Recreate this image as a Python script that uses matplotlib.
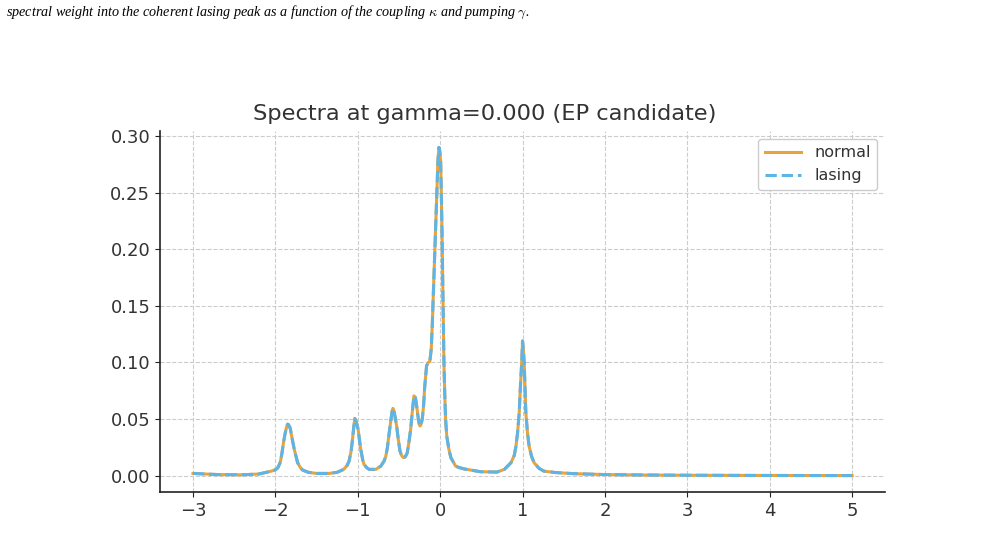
import numpy as np
import matplotlib.pyplot as plt

# spectrum (omega, weight)
omega = [-3.0, -2.7, -2.4, -2.2, -2.05, -2.0, -1.97, -1.94, -1.92, -1.90,
         -1.88, -1.86, -1.85, -1.84, -1.82, -1.80, -1.77, -1.73, -1.70, -1.67,
         -1.60, -1.50, -1.35, -1.25, -1.17, -1.13, -1.105, -1.08, -1.064, -1.05,
         -1.036, -1.02, -1.01, -0.996, -0.98, -0.963, -0.94, -0.924, -0.89, -0.863,
         -0.78, -0.72, -0.68, -0.66, -0.64, -0.62, -0.60, -0.585, -0.573, -0.56,
         -0.545, -0.528, -0.51, -0.488, -0.47, -0.447, -0.425, -0.40, -0.38, -0.358,
         -0.34, -0.33, -0.318, -0.30, -0.286, -0.27, -0.255, -0.246, -0.235, -0.217,
         -0.20, -0.189, -0.165, -0.145, -0.125, -0.108, -0.095, -0.083, -0.07, -0.055,
         -0.04, -0.027, -0.015, -0.005, 0.006, 0.014, 0.022, 0.028, 0.034, 0.040,
         0.046, 0.056, 0.066, 0.08, 0.106, 0.13, 0.187, 0.23, 0.29, 0.49,
         0.69, 0.78, 0.86, 0.90, 0.92, 0.94, 0.96, 0.975, 0.99, 1.0,
         1.01, 1.02, 1.03, 1.04, 1.06, 1.08, 1.11, 1.14, 1.20, 1.26,
         1.40, 1.62, 2.0, 2.5, 3.0, 4.0, 5.0]
spec_normal = [0.0020, 0.0010, 0.0008, 0.0015, 0.0040, 0.0052, 0.0070, 0.012, 0.020, 0.030,
               0.038, 0.044, 0.0455, 0.0450, 0.042, 0.034, 0.023, 0.0115, 0.0075, 0.005,
               0.003, 0.002, 0.002, 0.003, 0.0056, 0.009, 0.013, 0.022, 0.032, 0.042,
               0.0505, 0.048, 0.045, 0.041, 0.032, 0.023, 0.014, 0.010, 0.007, 0.0056,
               0.0056, 0.0085, 0.013, 0.017, 0.025, 0.037, 0.048, 0.056, 0.0595, 0.057,
               0.051, 0.044, 0.033, 0.022, 0.018, 0.016, 0.0165, 0.020, 0.029, 0.041,
               0.055, 0.062, 0.0705, 0.069, 0.062, 0.053, 0.046, 0.044, 0.0445, 0.050,
               0.063, 0.077, 0.097, 0.100, 0.101, 0.112, 0.134, 0.160, 0.187, 0.219,
               0.250, 0.278, 0.290, 0.287, 0.278, 0.250, 0.219, 0.190, 0.159, 0.130,
               0.100, 0.072, 0.050, 0.035, 0.0234, 0.016, 0.0085, 0.0072, 0.006, 0.0035,
               0.0032, 0.0056, 0.0115, 0.018, 0.026, 0.038, 0.056, 0.080, 0.100, 0.119,
               0.112, 0.100, 0.078, 0.056, 0.038, 0.026, 0.017, 0.0115, 0.0065, 0.004,
               0.0028, 0.0018, 0.0010, 0.0006, 0.0004, 0.0002, 0.0001]
# at gamma=0 the lasing spectrum coincides with the normal one
spec_lasing = list(spec_normal)

gamma = 0.0
caption = ("spectral weight into the coherent lasing peak as a function of the "
           r"coupling $\kappa$ and pumping $\gamma$.")

plt.rcParams['mathtext.fontset'] = 'cm'
text_col = '#333333'

fig = plt.figure(figsize=(10.04, 5.48), dpi=100)
fig.text(0.006, 0.978, caption, ha='left', va='center', fontsize=10.15,
         family='Liberation Serif', style='italic', color='black')

ax = fig.add_axes([0.1594, 0.1022, 0.7221, 0.6588])
ax.plot(omega, spec_normal, color='#E8A33A', lw=2.2, label='normal')
ax.plot(omega, spec_lasing, color='#5DB4E6', lw=2.2, ls='--', label='lasing')

ax.set_title(f'Spectra at gamma={gamma:.3f} (EP candidate)', fontsize=16.2,
             color=text_col, pad=8, x=0.448)
ax.grid(True, ls='--', lw=0.8, color='#cccccc')
ax.set_axisbelow(True)
for side in ['top', 'right']:
    ax.spines[side].set_visible(False)
for side in ['left', 'bottom']:
    ax.spines[side].set_color('#222222')
    ax.spines[side].set_linewidth(1.2)
ax.tick_params(labelsize=13, colors='#222222', labelcolor=text_col)
ax.set_xticks(np.arange(-3, 6, 1))
ax.set_yticks(np.arange(0, 0.31, 0.05))
ax.yaxis.set_major_formatter(plt.FormatStrFormatter('%.2f'))
leg = ax.legend(loc='upper right', fontsize=11.5, framealpha=1, edgecolor='#cccccc',
                handlelength=2.3)
for t in leg.get_texts():
    t.set_color(text_col)

fig.savefig('out.png', dpi=100)
